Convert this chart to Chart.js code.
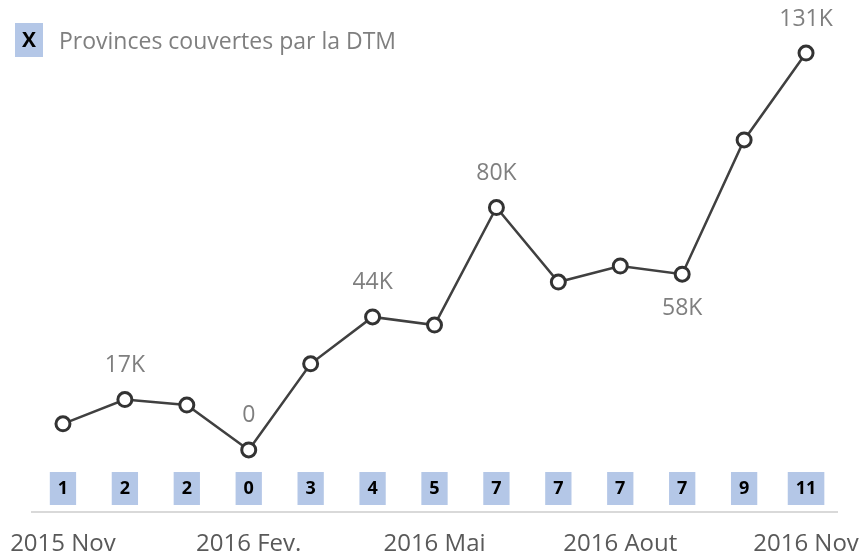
<!DOCTYPE html>
<html>
<head>
<meta charset="utf-8">
<script src="https://cdn.jsdelivr.net/npm/chart.js@4.4.1/dist/chart.umd.min.js"></script>
<style>
  html, body { margin: 0; padding: 0; background: #fff; }
  #wrap { position: relative; width: 864px; height: 558px; }
</style>
</head>
<body>
<div id="wrap"><canvas id="lineChart"></canvas></div>
<script>
// Mois (categories)
var mois = ['2015 Nov', '2015 Dec', '2016 Jan', '2016 Fev.', '2016 Mar', '2016 Avr',
            '2016 Mai', '2016 Juin', '2016 Juil', '2016 Aout', '2016 Sep', '2016 Oct', '2016 Nov'];
// Etiquettes affichees sous l'axe
var etiquettesAxe = ['2015 Nov', '', '', '2016 Fev.', '', '', '2016 Mai', '', '', '2016 Aout', '', '', '2016 Nov'];
// Valeurs de la serie
var valeurs = [8600, 16600, 14800, 0, 28400, 43900, 41200, 80000, 55400, 60700, 58000, 102300, 131000];
// Provinces couvertes par la DTM
var provinces = [1, 2, 2, 0, 3, 4, 5, 7, 7, 7, 7, 9, 11];
// Points avec etiquette de valeur, et ceux dont l'etiquette est dessous
var pointsEtiquetes = [1, 3, 5, 7, 10, 12];
var etiquettesDessous = [10];

var legendeTexte = 'Provinces couvertes par la DTM';

function formatK(v) {
    return v === 0 ? '0' : Math.round(v / 1000) + 'K';
}

// Plugin: etiquettes, cases des provinces et legende
var decorations = {
    id: 'decorations',
    afterDatasetsDraw: function(chart) {
        var ctx = chart.ctx;
        var meta = chart.getDatasetMeta(0);
        var xScale = chart.scales.x;
        ctx.save();

        // Etiquettes de valeurs
        ctx.fillStyle = '#7f7f7f';
        ctx.font = '23px "Open Sans"';
        ctx.textAlign = 'center';
        ctx.textBaseline = 'middle';
        pointsEtiquetes.forEach(function(i) {
            var p = meta.data[i];
            var dy = etiquettesDessous.indexOf(i) >= 0 ? 34 : -34;
            ctx.fillText(formatK(valeurs[i]), p.x, p.y + dy);
        });

        // Cases des provinces
        ctx.font = 'bold 18px "Open Sans"';
        provinces.forEach(function(n, i) {
            var x = xScale.getPixelForValue(i);
            var txt = String(n);
            var w = ctx.measureText(txt).width + 16;
            ctx.fillStyle = '#b4c7e7';
            ctx.fillRect(x - w / 2, 472, w, 33);
            ctx.fillStyle = '#000000';
            ctx.fillText(txt, x, 489);
        });

        // Legende
        ctx.fillStyle = '#b4c7e7';
        ctx.fillRect(15, 23, 28, 34);
        ctx.fillStyle = '#000000';
        ctx.font = 'bold 21px "Open Sans"';
        ctx.fillText('X', 29, 41);
        ctx.fillStyle = '#7f7f7f';
        ctx.font = '23px "Open Sans"';
        ctx.textAlign = 'left';
        ctx.fillText(legendeTexte, 59, 42);

        ctx.restore();
    }
};

var data = {
    labels: mois,
    datasets: [{
        label: legendeTexte,
        data: valeurs,
        borderColor: '#404040',
        borderWidth: 2.5,
        tension: 0,
        pointRadius: 7,
        pointBorderWidth: 3,
        pointBackgroundColor: '#ffffff',
        pointBorderColor: '#333333'
    }]
};

var options = {
    responsive: false,
    animation: false,
    layout: { padding: { left: 32, right: 27, top: 20, bottom: 0 } },
    plugins: {
        legend: { display: false },
        tooltip: { enabled: false }
    },
    scales: {
        x: {
            offset: true,
            grid: { display: false, offset: true, drawTicks: false },
            border: { display: true, color: '#d9d9d9', width: 2 },
            ticks: {
                autoSkip: false,
                maxRotation: 0,
                padding: 18,
                color: '#595959',
                font: { family: 'Open Sans', size: 24 },
                callback: function(value, index) { return etiquettesAxe[index]; }
            },
            afterFit: function(scale) {
                scale.height = 46;
                scale.paddingLeft = 0;
                scale.paddingRight = 0;
            }
        },
        y: {
            display: false,
            min: -20500,
            max: 141900
        }
    }
};

var canvas = document.getElementById('lineChart');
canvas.width = 864;
canvas.height = 558;
var lineChart = new Chart(canvas.getContext('2d'), {
    type: 'line',
    data: data,
    options: options,
    plugins: [decorations]
});
</script>
</body>
</html>
